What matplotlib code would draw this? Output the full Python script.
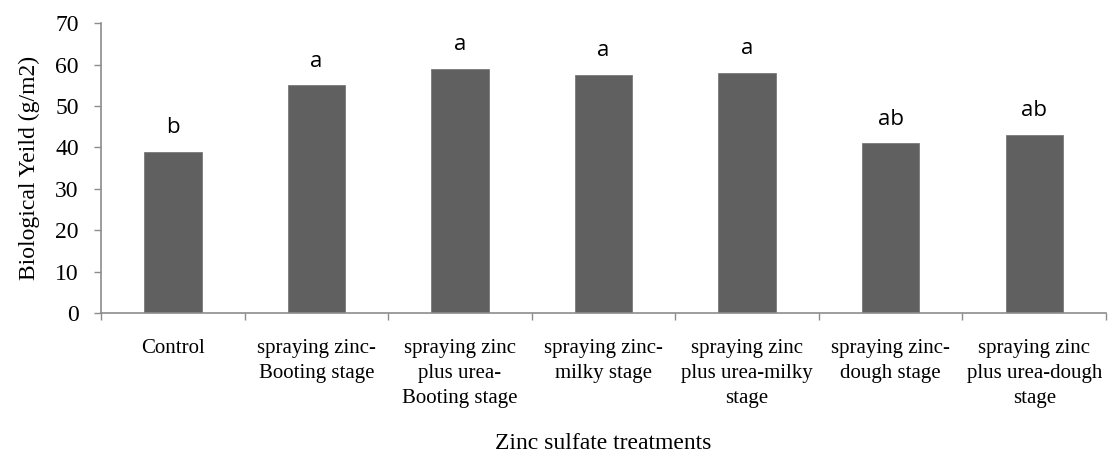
import matplotlib
matplotlib.use("Agg")
import matplotlib.pyplot as plt
import numpy as np

categories = ["Control", "spraying zinc-\nBooting stage", "spraying zinc\nplus urea-\nBooting stage",
              "spraying zinc-\nmilky stage", "spraying zinc\nplus urea-milky\nstage",
              "spraying zinc-\ndough stage", "spraying zinc\nplus urea-dough\nstage"]
values = [39, 55, 59, 57.5, 58, 41, 43]
letters = ["b", "a", "a", "a", "a", "ab", "ab"]
yticks = [0, 10, 20, 30, 40, 50, 60, 70]

fig = plt.figure(figsize=(11.15, 4.54), dpi=100)
ax = fig.add_axes([0.0906, 0.3106, 0.9014, 0.6384])

serif = "Liberation Serif"
bar_color = "#606060"
axis_color = "#8c8c8c"

x = np.arange(len(categories))
ax.bar(x, values, width=0.4, color=bar_color, edgecolor="#7a7a7a", linewidth=0.6, zorder=2)

for xi, v, t in zip(x, values, letters):
    ax.text(xi, v + 5.8, t, ha="center", va="center", fontsize=16, family="Open Sans", color="black")

ax.set_xlim(-0.5, len(categories) - 0.5)
ax.set_ylim(0, 70)
ax.set_yticks(yticks)
ax.set_yticklabels([str(t) for t in yticks], fontsize=17, family=serif)
ax.set_xticks(x)
ax.set_xticklabels(categories, fontsize=15, family=serif, linespacing=1.4)
ax.set_xticks(np.arange(len(categories) + 1) - 0.5, minor=True)

ax.tick_params(axis="x", which="major", length=0, pad=19)
ax.tick_params(axis="x", which="minor", length=5, width=1, color=axis_color, direction="out")
ax.tick_params(axis="y", which="major", length=5, width=1, color=axis_color, direction="out", pad=11)

for s in ["top", "right"]:
    ax.spines[s].set_visible(False)
for s in ["left", "bottom"]:
    ax.spines[s].set_color(axis_color)
    ax.spines[s].set_linewidth(1.2)

ax.set_ylabel("Biological Yeild (g/m2)", fontsize=17, family=serif)
ax.yaxis.set_label_coords(-0.061, 0.5)
ax.set_xlabel("Zinc sulfate treatments", fontsize=17, family=serif)
ax.xaxis.set_label_coords(0.5, -0.415)

fig.savefig("out.png", dpi=100)
